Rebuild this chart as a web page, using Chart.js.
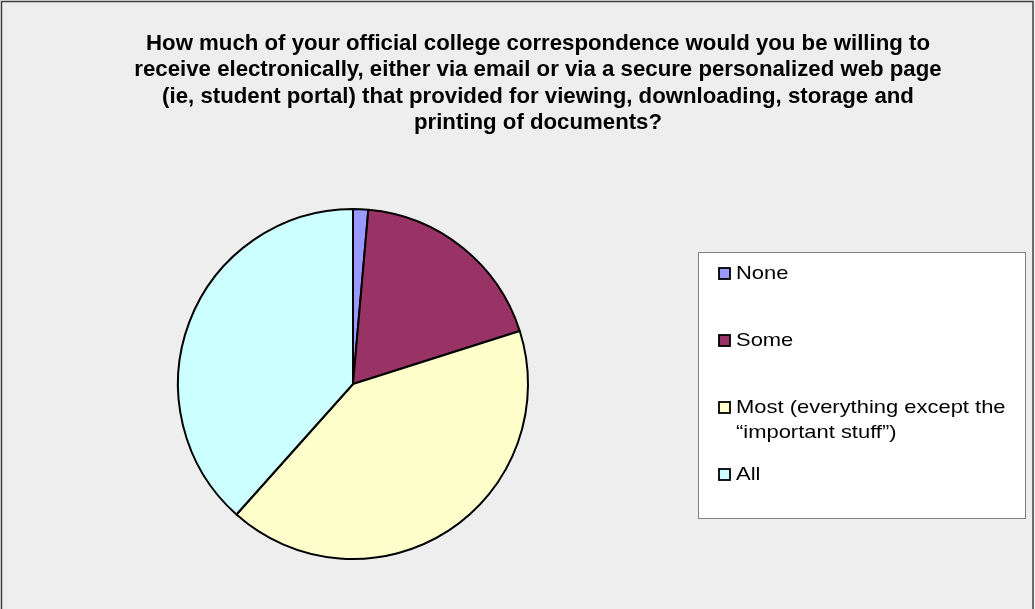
<!DOCTYPE html>
<html>
<head>
<meta charset="utf-8">
<script src="https://cdn.jsdelivr.net/npm/chart.js@4.4.1/dist/chart.umd.min.js"></script>
<style>
  html, body { margin: 0; padding: 0; background: #eeeeee; }
  #wrap { width: 1035px; height: 609px; position: relative; }
</style>
</head>
<body>
<div id="wrap"><canvas id="c" width="1035" height="609"></canvas></div>
<script>
// Survey responses (share of respondents)
const categories = ['None', 'Some', 'Most (everything except the\n\u201cimportant stuff\u201d)', 'All'];
const responseShares = [1.4, 18.7, 41.5, 38.4];
const sliceColors = ['#9999FF', '#993366', '#FFFFCC', '#CCFFFF'];
const titleLines = [
  'How much of your official college correspondence would you be willing to',
  'receive electronically, either via email or via a secure personalized web page',
  '(ie, student portal) that provided for viewing, downloading, storage and',
  'printing of documents?'
];

// Panel background, frame and the question text across the full width
const framePlugin = {
  id: 'frame',
  beforeDraw(chart) {
    const ctx = chart.ctx;
    ctx.save();
    ctx.fillStyle = '#eeeeee';
    ctx.fillRect(0, 0, chart.width, chart.height);
    ctx.strokeStyle = '#404040';
    ctx.lineWidth = 1.5;
    ctx.beginPath();
    ctx.moveTo(1.5, chart.height + 5);
    ctx.lineTo(1.5, 1.5);
    ctx.lineTo(chart.width - 2, 1.5);
    ctx.lineTo(chart.width - 2, chart.height + 5);
    ctx.stroke();

    ctx.translate(538, 0);
    ctx.scale(1.01, 1);
    ctx.fillStyle = '#000000';
    ctx.font = 'bold 22px "Liberation Sans", Arial, sans-serif';
    ctx.textAlign = 'center';
    ctx.textBaseline = 'alphabetic';
    titleLines.forEach((line, i) => {
      ctx.fillText(line, 0, 49.5 + i * 26.5);
    });
    ctx.restore();
  }
};

// Boxed legend to the right of the pie
const boxLegendPlugin = {
  id: 'boxLegend',
  afterDraw(chart) {
    const ctx = chart.ctx;
    const box = { x: 698, y: 252, w: 327, h: 266 };
    const baselines = [279, 346, 413, 480];
    const lineGap = 24.5;
    const stretch = 1.155;
    ctx.save();
    ctx.fillStyle = '#ffffff';
    ctx.fillRect(box.x, box.y, box.w, box.h);
    ctx.strokeStyle = '#808080';
    ctx.lineWidth = 1;
    ctx.strokeRect(box.x + 0.5, box.y + 0.5, box.w, box.h);
    const colors = chart.data.datasets[0].backgroundColor;
    chart.data.labels.forEach((label, i) => {
      const base = baselines[i];
      ctx.fillStyle = colors[i];
      ctx.fillRect(719, base - 11, 11, 11);
      ctx.strokeStyle = '#000000';
      ctx.lineWidth = 1.8;
      ctx.strokeRect(719, base - 11, 11, 11);

      ctx.save();
      ctx.translate(736, 0);
      ctx.scale(stretch, 1);
      ctx.fillStyle = '#000000';
      ctx.font = '19px "Liberation Sans", Arial, sans-serif';
      ctx.textBaseline = 'alphabetic';
      label.split('\n').forEach((line, j) => {
        ctx.fillText(line, 0, base + j * lineGap);
      });
      ctx.restore();
    });
    ctx.restore();
  }
};

new Chart(document.getElementById('c'), {
  type: 'pie',
  data: {
    labels: categories,
    datasets: [{
      data: responseShares,
      backgroundColor: sliceColors,
      borderColor: '#000000',
      borderWidth: 2
    }]
  },
  options: {
    responsive: false,
    animation: false,
    layout: { padding: { left: 177, right: 506, top: 208, bottom: 49 } },
    plugins: {
      legend: { display: false },
      tooltip: { enabled: false },
      title: { display: false }
    }
  },
  plugins: [framePlugin, boxLegendPlugin]
});
</script>
</body>
</html>
